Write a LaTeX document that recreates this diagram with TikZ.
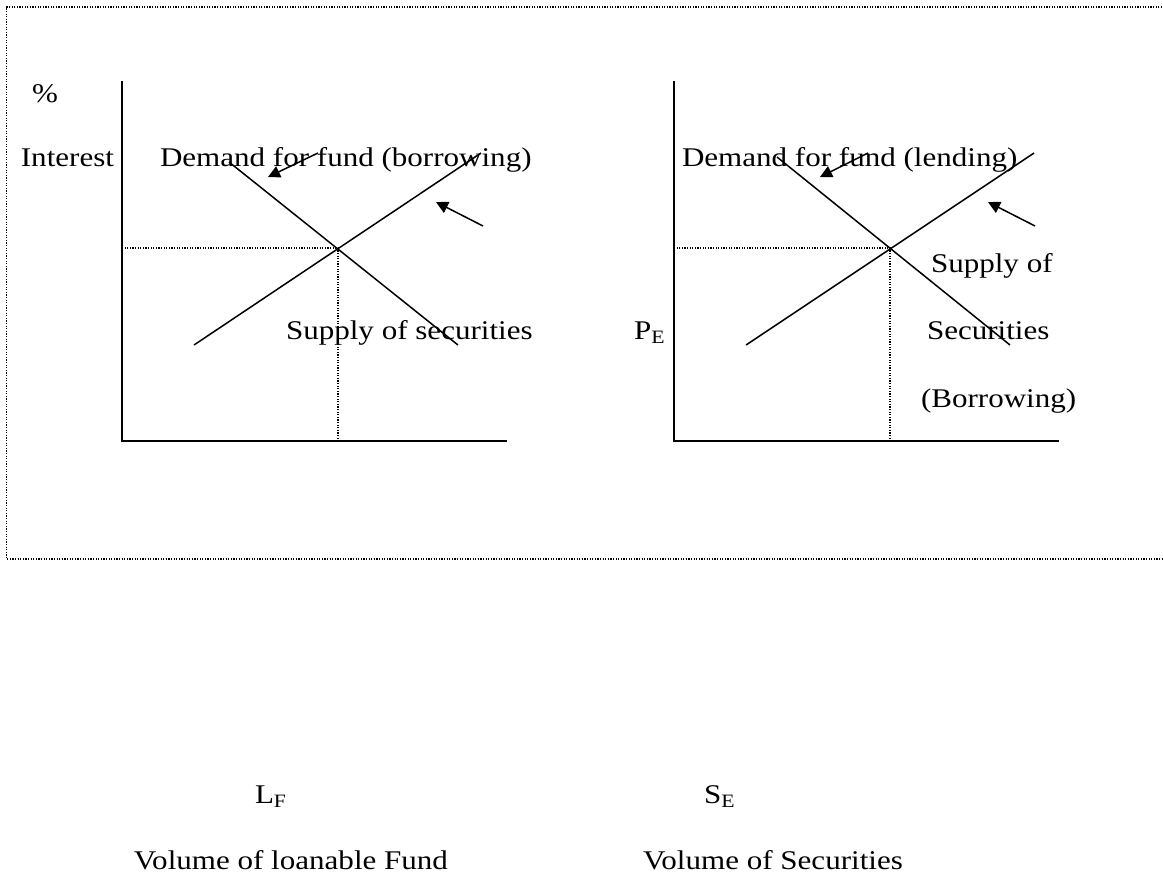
\documentclass[tikz,border=0pt]{standalone}
\usepackage{fontspec}
\setmainfont{Liberation Serif}[FakeStretch=1.15]
\usetikzlibrary{arrows.meta}

\begin{document}
\begin{tikzpicture}[x=0.5pt, y=-0.5pt]
    \tikzset{
      axis/.style = {line width=1pt},
      curve/.style = {line width=0.75pt},
      guide/.style = {line width=0.6pt, dash pattern=on 0.6pt off 0.7pt},
      pointer/.style = {line width=0.75pt,
      -{Triangle[length=6pt, width=6pt]}},
      lbl/.style = {inner sep=0pt, outer sep=0pt,
      font=\fontsize{13.5}{16}\selectfont} % text size
    }
    \useasboundingbox (0,0) rectangle (1163,875);

    % dotted frame, open on the right
    \coordinate (ftr) at (1175,7);
    \coordinate (ftl) at (6.5,7);
    \coordinate (fbl) at (6.5,559);
    \coordinate (fbr) at (1175,559);
    \draw[guide] (ftr) -- (ftl) -- (fbl) -- (fbr);

    % left panel: loanable funds
    \coordinate (y1) at (122,81);
    \coordinate (o1) at (122,441);
    \coordinate (x1) at (507,441);
    \draw[axis] (y1) -- (o1) -- (x1);

    \coordinate (d1a) at (229,162);
    \coordinate (d1b) at (458,345);
    \coordinate (s1a) at (194,345);
    \coordinate (s1b) at (481,153);
    \draw[curve]
      (d1a) edge (d1b)
      (s1a) edge (s1b)
    ;

    \coordinate (e1) at (338,248);
    \coordinate (e1y) at (122,248);
    \coordinate (e1x) at (338,441);
    \draw[guide] (e1y) -- (e1) -- (e1x);

    \coordinate (p1a) at (318,153);
    \coordinate (p1b) at (268,177);
    \coordinate (q1a) at (483,226);
    \coordinate (q1b) at (436,202);
    \draw[pointer] (p1a) -- (p1b);
    \draw[pointer] (q1a) -- (q1b);

    \node[lbl, anchor=base] (pct) at (45,102) {\%};
    \node[lbl, anchor=base east] (int) at (114,166) {Interest};
    \node[lbl, anchor=base west] (dem1) at (160,166) {Demand for fund (borrowing)};
    \node[lbl, anchor=base west] (sup1) at (286,339) {Supply of securities};

    % right panel: securities
    \coordinate (y2) at (674,81);
    \coordinate (o2) at (674,441);
    \coordinate (x2) at (1059,441);
    \draw[axis] (y2) -- (o2) -- (x2);

    \coordinate (d2a) at (777,157);
    \coordinate (d2b) at (1010,345);
    \coordinate (s2a) at (746,345);
    \coordinate (s2b) at (1034,153);
    \draw[curve]
      (d2a) edge (d2b)
      (s2a) edge (s2b)
    ;

    \coordinate (e2) at (890,248);
    \coordinate (e2y) at (674,248);
    \coordinate (e2x) at (890,441);
    \draw[guide] (e2y) -- (e2) -- (e2x);

    \coordinate (p2a) at (868,153);
    \coordinate (p2b) at (820,177);
    \coordinate (q2a) at (1035,226);
    \coordinate (q2b) at (988,202);
    \draw[pointer] (p2a) -- (p2b);
    \draw[pointer] (q2a) -- (q2b);

    \node[lbl, anchor=base west] (dem2) at (682,166) {Demand for fund (lending)};
    \node[lbl, anchor=base west] (pe) at (634,339) {P\textsubscript{E}};
    \node[lbl, anchor=base west] (sup2a) at (931,272) {Supply of};
    \node[lbl, anchor=base west] (sup2b) at (927,339) {Securities};
    \node[lbl, anchor=base west] (sup2c) at (921,407) {(Borrowing)};

    % quantity labels below
    \node[lbl, anchor=base west] (lf) at (255,803) {L\textsubscript{F}};
    \node[lbl, anchor=base west] (se) at (704,803) {S\textsubscript{E}};
    \node[lbl, anchor=base east] (vol1) at (448,869) {Volume of loanable Fund};
    \node[lbl, anchor=base west] (vol2) at (643,869) {Volume of Securities};
\end{tikzpicture}
\end{document}
